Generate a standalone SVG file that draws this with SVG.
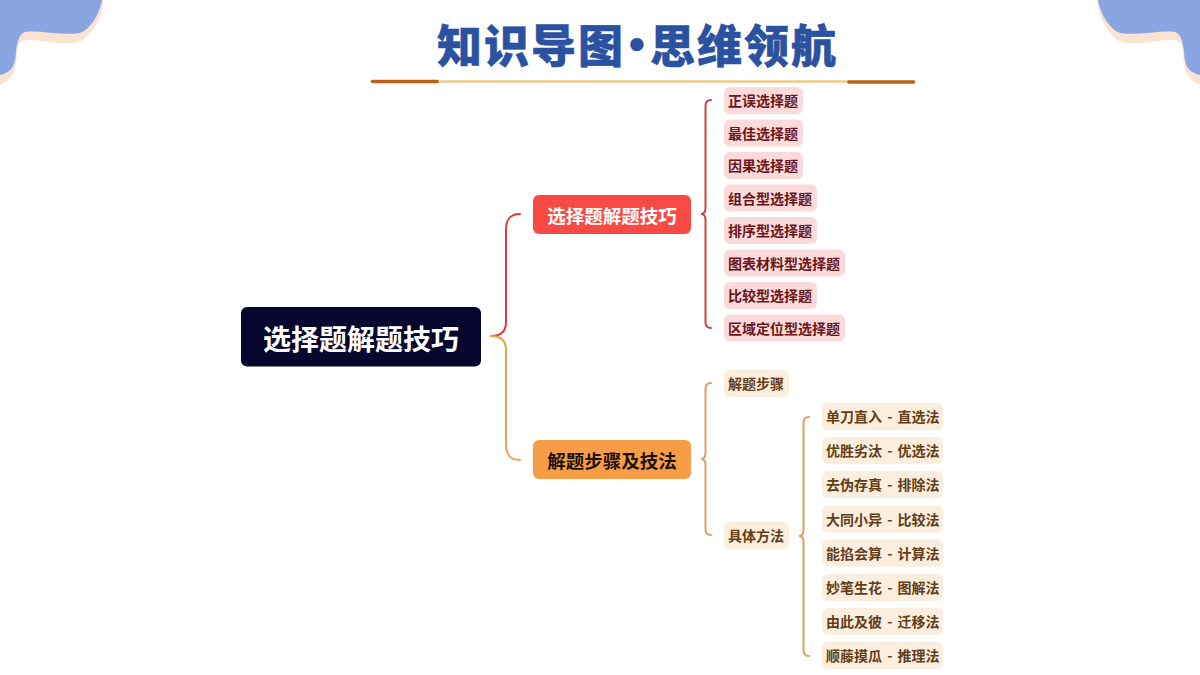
<svg xmlns="http://www.w3.org/2000/svg" width="1200" height="675" viewBox="0 0 1200 675">
<style>
text{font-family:"Noto Sans CJK SC","Liberation Sans",sans-serif;font-weight:700;dominant-baseline:central}
.title{font-size:45px;letter-spacing:2px;font-weight:900;fill:#2b52a0;stroke:#2b52a0;stroke-width:.5px}
.dot{font-family:"Liberation Sans",sans-serif;font-weight:700}
.root{font-size:28px;fill:#fff;text-anchor:middle}
.main{font-size:18.500px;text-anchor:middle}
.leaf{font-size:14px;word-spacing:2px}
.r rect{fill:#fadada}.r text{fill:#6b1518}
.o rect{fill:#fbeede}.o text{fill:#633d16}
.conn{fill:none;stroke-width:2;stroke-linecap:round}
</style>
<g id="decor">
<path d="M0 0H103C104 12 97 28 83 40C70 47 50 41 30 40C20 39 18 44 17 52C16 66 16 78 0 85Z" fill="#fbe3d3"/>
<path d="M0 0H102C100 12 92 28 80 33C62 36 40 30 25 32C19 34 17 42 16 52C15 66 12 72 0 75Z" fill="#89a5e2"/>
<path d="M1200 0H1097C1098 12 1103 28 1117 40C1130 47 1150 41 1170 40C1180 39 1182 44 1183 52C1184 66 1184 78 1200 85Z" fill="#fbe3d3"/>
<path d="M1098 0C1100 12 1108 28 1120 33C1138 36 1160 30 1175 32C1181 34 1183 42 1184 52C1185 66 1188 72 1200 75V0Z" fill="#89a5e2"/>
</g>
<g id="title">
<text class="title" y="43"><tspan x="437">知识导图</tspan><tspan class="dot" x="629">•</tspan><tspan x="650">思维领航</tspan></text>
<path d="M437 81.500H849" stroke="#f0c98e" stroke-width="2.400" fill="none"/>
<path d="M372.500 81.500H437" stroke="#bf5f18" stroke-width="3.600" stroke-linecap="round" fill="none"/>
<path d="M849 82H913.500" stroke="#bf5f18" stroke-width="3.600" stroke-linecap="round" fill="none"/>
</g>
<g id="connectors">
<path class="conn" stroke="#e0383e" d="M491 336C500 336 506 332 506 322V230C506 219 510 214 520 214"/>
<path class="conn" stroke="#eba04f" d="M491 336C500 336 506 340 506 350V444C506 455 510 460 520 460"/>
<path class="conn" stroke="#c9444a" d="M711 100C707 100 705.500 102 705.500 106V208C705.500 212 704 214 701 214C704 214 705.500 216 705.500 220V322C705.500 326 707 328 711 328"/>
<path class="conn" stroke="#dc9f62" d="M711 383C707 383 705.500 385 705.500 389V453C705.500 457 704 459 701 459C704 459 705.500 461 705.500 465V529C705.500 533 707 535 711 535"/>
<path class="conn" stroke="#dc9f62" d="M809 417C805 417 803.500 419 803.500 423V530C803.500 534 802 536 799 536C802 536 803.500 538 803.500 542V650C803.500 654 805 656 809 656"/>
</g>
<g id="root"><rect x="241" y="307" width="240" height="59.500" rx="6" fill="#06062e"/><text class="root" x="361" y="338">选择题解题技巧</text></g>
<g id="n-choice"><rect x="533" y="195" width="158" height="39" rx="6" fill="#f84a44"/><text class="main" x="612" y="214.500" fill="#fff">选择题解题技巧</text></g>
<g id="n-steps"><rect x="533" y="440" width="158" height="39" rx="6" fill="#f79d47"/><text class="main" x="612" y="459.500" fill="#1e1206">解题步骤及技法</text></g>
<g id="r1" class="r"><rect x="724" y="87" width="79" height="27" rx="6"/><text class="leaf" x="728" y="100">正误选择题</text></g>
<g id="r2" class="r"><rect x="724" y="119.500" width="79" height="27" rx="6"/><text class="leaf" x="728" y="132.500">最佳选择题</text></g>
<g id="r3" class="r"><rect x="724" y="152" width="79" height="27" rx="6"/><text class="leaf" x="728" y="165">因果选择题</text></g>
<g id="r4" class="r"><rect x="724" y="184.500" width="93" height="27" rx="6"/><text class="leaf" x="728" y="197.500">组合型选择题</text></g>
<g id="r5" class="r"><rect x="724" y="217" width="93" height="27" rx="6"/><text class="leaf" x="728" y="230">排序型选择题</text></g>
<g id="r6" class="r"><rect x="724" y="249.500" width="121" height="27" rx="6"/><text class="leaf" x="728" y="262.500">图表材料型选择题</text></g>
<g id="r7" class="r"><rect x="724" y="282" width="93" height="27" rx="6"/><text class="leaf" x="728" y="295">比较型选择题</text></g>
<g id="r8" class="r"><rect x="724" y="314.500" width="121" height="27" rx="6"/><text class="leaf" x="728" y="327.500">区域定位型选择题</text></g>
<g id="o1" class="o"><rect x="724" y="370" width="65" height="27" rx="6"/><text class="leaf" x="728" y="383">解题步骤</text></g>
<g id="o2" class="o"><rect x="724" y="522" width="65" height="27.500" rx="6"/><text class="leaf" x="728" y="535">具体方法</text></g>
<g id="m1" class="o"><rect x="822" y="403" width="121" height="27" rx="6"/><text class="leaf" x="826" y="416">单刀直入 - 直选法</text></g>
<g id="m2" class="o"><rect x="822" y="437" width="121" height="27" rx="6"/><text class="leaf" x="826" y="450">优胜劣汰 - 优选法</text></g>
<g id="m3" class="o"><rect x="822" y="471" width="121" height="27" rx="6"/><text class="leaf" x="826" y="484">去伪存真 - 排除法</text></g>
<g id="m4" class="o"><rect x="822" y="505.500" width="121" height="27" rx="6"/><text class="leaf" x="826" y="518.500">大同小异 - 比较法</text></g>
<g id="m5" class="o"><rect x="822" y="539.500" width="121" height="27" rx="6"/><text class="leaf" x="826" y="552.500">能掐会算 - 计算法</text></g>
<g id="m6" class="o"><rect x="822" y="574" width="121" height="27" rx="6"/><text class="leaf" x="826" y="587">妙笔生花 - 图解法</text></g>
<g id="m7" class="o"><rect x="822" y="608" width="121" height="27" rx="6"/><text class="leaf" x="826" y="621">由此及彼 - 迁移法</text></g>
<g id="m8" class="o"><rect x="822" y="642" width="121" height="27" rx="6"/><text class="leaf" x="826" y="655">顺藤摸瓜 - 推理法</text></g>
</svg>
